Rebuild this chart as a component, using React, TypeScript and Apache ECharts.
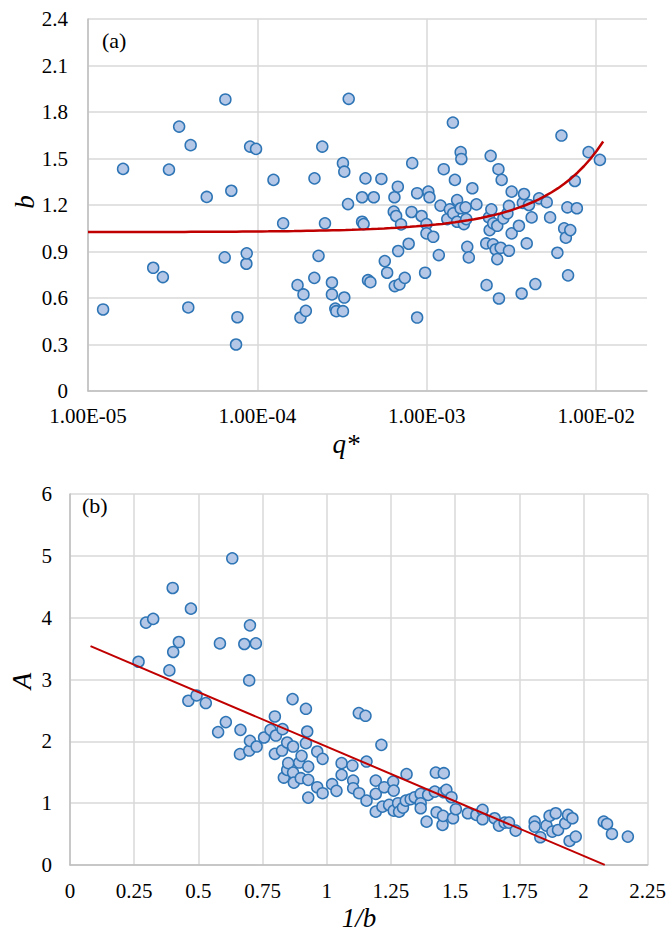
import React, { useEffect, useRef } from "react";
import * as echarts from "echarts";

// Panel (a): log10(q*) and b
const qLog: number[] = [
  -4.911, -4.793, -4.615, -4.558, -4.522, -4.462, -4.408, -4.394, -4.299, -4.193,
  -4.189, -4.154, -4.126, -4.118, -4.065, -4.063, -4.043, -4.008, -3.905, -3.848,
  -3.763, -3.746, -3.728, -3.714, -3.664, -3.663, -3.639, -3.617, -3.601, -3.560,
  -3.560, -3.540, -3.534, -3.495, -3.487, -3.495, -3.487, -3.465, -3.461, -3.382,
  -3.382, -3.373, -3.362, -3.347, -3.333, -3.313, -3.268, -3.248, -3.234, -3.195,
  -3.191, -3.189, -3.181, -3.171, -3.169, -3.161, -3.152, -3.130, -3.107, -3.090,
  -3.086, -3.057, -3.057, -3.031, -3.010, -3.002, -3.002, -2.991, -2.984, -2.962,
  -2.929, -2.919, -2.900, -2.879, -2.864, -2.846, -2.844, -2.834, -2.821, -2.821,
  -2.800, -2.800, -2.796, -2.781, -2.771, -2.767, -2.761, -2.752, -2.731, -2.707,
  -2.649, -2.647, -2.633, -2.629, -2.623, -2.619, -2.609, -2.608, -2.593, -2.584,
  -2.584, -2.577, -2.574, -2.564, -2.558, -2.548, -2.524, -2.515, -2.515, -2.499,
  -2.499, -2.456, -2.440, -2.433, -2.426, -2.410, -2.397, -2.381, -2.359, -2.337,
  -2.292, -2.272, -2.229, -2.205, -2.189, -2.179, -2.170, -2.166, -2.153, -2.126,
  -2.114, -2.045, -1.978,
];
const bVals: number[] = [
  0.526, 1.433, 0.795, 0.735, 1.428, 1.706, 0.539, 1.586, 1.252, 0.862,
  1.881, 1.292, 0.300, 0.476, 0.821, 0.888, 1.577, 1.562, 1.362, 1.082,
  0.683, 0.474, 0.623, 0.517, 0.730, 1.372, 0.872, 1.577, 1.082, 0.700,
  0.623, 0.532, 0.515, 0.515, 0.603, 1.470, 1.415, 1.206, 1.885, 1.250,
  1.092, 1.077, 1.372, 0.715, 0.702, 1.250, 1.368, 0.838, 0.763, 1.157,
  1.250, 0.677, 1.129, 1.318, 0.903, 0.688, 1.075, 0.730, 0.950, 1.155,
  1.470, 1.276, 0.474, 1.129, 0.763, 1.077, 1.017, 1.286, 1.250, 0.995,
  0.877, 1.196, 1.431, 1.109, 1.172, 1.732, 1.146, 1.362, 1.092, 1.232,
  1.179, 1.541, 1.497, 1.077, 1.185, 1.109, 0.930, 0.862, 1.308, 1.204,
  0.952, 0.683, 1.120, 1.038, 1.517, 1.172, 0.946, 1.082, 0.913, 1.066,
  0.851, 1.431, 0.597, 0.924, 1.362, 1.114, 1.146, 1.194, 0.905, 1.017,
  1.286, 1.066, 0.629, 1.214, 1.271, 0.952, 1.200, 1.120, 0.690, 1.243,
  1.218, 1.120, 0.892, 1.648, 1.049, 0.989, 1.185, 0.746, 1.038, 1.355,
  1.179, 1.541, 1.491,
];
// exponential trendline b = a * exp(k * q*)
const trendA = 1.025;
const trendK = 41;
const trendQMin = 1e-5;
const trendQMax = 0.011;
const xTicksA: number[] = [-5, -4, -3, -2];

// Panel (b): 1/b and A
const invB: number[] = [
  0.267, 0.296, 0.324, 0.387, 0.400, 0.402, 0.424, 0.461, 0.471, 0.493,
  0.529, 0.577, 0.584, 0.607, 0.632, 0.662, 0.664, 0.679, 0.698, 0.698,
  0.701, 0.701, 0.724, 0.727, 0.756, 0.781, 0.798, 0.798, 0.802, 0.826,
  0.828, 0.833, 0.846, 0.846, 0.850, 0.867, 0.869, 0.869, 0.872, 0.893,
  0.899, 0.902, 0.919, 0.919, 0.924, 0.928, 0.928, 0.928, 0.963, 0.963,
  0.984, 0.984, 1.021, 1.038, 1.058, 1.058, 1.100, 1.103, 1.103, 1.125,
  1.126, 1.151, 1.155, 1.155, 1.191, 1.191, 1.191, 1.213, 1.217, 1.224,
  1.243, 1.259, 1.261, 1.261, 1.278, 1.282, 1.297, 1.308, 1.311, 1.327,
  1.343, 1.366, 1.366, 1.366, 1.389, 1.395, 1.421, 1.425, 1.428, 1.451,
  1.453, 1.456, 1.456, 1.466, 1.486, 1.492, 1.503, 1.550, 1.583, 1.607,
  1.607, 1.654, 1.671, 1.693, 1.710, 1.736, 1.810, 1.810, 1.832, 1.856,
  1.868, 1.879, 1.892, 1.901, 1.929, 1.940, 1.946, 1.957, 1.970, 2.079,
  2.092, 2.111, 2.173,
];
const aVals: number[] = [
  3.287, 3.920, 3.980, 3.147, 4.480, 3.445, 3.606, 2.656, 4.146, 2.742,
  2.619, 2.149, 3.584, 2.311, 4.960, 1.793, 2.186, 3.574, 1.851, 2.985,
  2.008, 3.876, 3.584, 1.916, 2.062, 2.186, 2.402, 1.798, 2.094, 1.851,
  2.197, 1.414, 1.981, 1.538, 1.647, 2.683, 1.916, 1.495, 1.333, 1.657,
  1.404, 1.765, 2.526, 1.971, 2.159, 1.592, 1.377, 1.090, 1.835, 1.258,
  1.717, 1.161, 1.307, 1.199, 1.647, 1.457, 1.608, 1.365, 1.242, 2.457,
  1.161, 2.413, 1.673, 1.041, 1.365, 1.150, 0.863, 1.943, 0.944, 1.258,
  0.972, 1.349, 1.203, 0.879, 0.999, 0.863, 0.928, 1.041, 1.469, 1.064,
  1.096, 1.150, 0.999, 0.918, 0.701, 1.134, 1.187, 1.495, 0.853, 0.648,
  0.794, 1.485, 1.177, 1.215, 1.096, 0.756, 0.902, 0.837, 0.810, 0.891,
  0.740, 0.756, 0.637, 0.685, 0.685, 0.556, 0.701, 0.621, 0.449, 0.637,
  0.794, 0.540, 0.837, 0.567, 0.675, 0.810, 0.389, 0.756, 0.459, 0.701,
  0.664, 0.502, 0.459,
];
// linear trendline A = c0 + c1 * (1/b)
const lineC0 = 3.68;
const lineC1 = -1.766;
const lineXStart = 0.08;
const lineXEnd = 2.083;

const FONT = "Liberation Serif";
const GRID_COLOR = "#d9d9d9";
const AXIS_COLOR = "#bfbfbf";
const FILL = "#b4c7e7";
const EDGE = "#2e75b6";
const RED = "#c00000";

export default function App() {
  const ref = useRef<HTMLDivElement>(null);
  useEffect(() => {
    document.body.style.margin = "0";
    if (!ref.current) return;
    const chart = echarts.init(ref.current, undefined, { renderer: "svg" });

    const scatterA = qLog.map((x, i) => [x, bVals[i]]);
    const trendPts: number[][] = [];
    const n = 80;
    const l0 = Math.log10(trendQMin);
    const l1 = Math.log10(trendQMax);
    for (let i = 0; i <= n; i++) {
      const l = l0 + ((l1 - l0) * i) / n;
      const q = Math.pow(10, l);
      trendPts.push([l, trendA * Math.exp(trendK * q)]);
    }
    const scatterB = invB.map((x, i) => [x, aVals[i]]);
    const linePts = [
      [lineXStart, lineC0 + lineC1 * lineXStart],
      [lineXEnd, lineC0 + lineC1 * lineXEnd],
    ];

    const labelStyle = { fontFamily: FONT, fontSize: 21, color: "#000" };
    const titleStyle = { fontFamily: FONT, fontSize: 27, fontStyle: "italic", fill: "#000" };

    chart.setOption({
      animation: false,
      backgroundColor: "#fff",
      textStyle: { fontFamily: FONT },
      grid: [
        { left: 88, right: 22, top: 19, height: 372, containLabel: false },
        { left: 70, right: 21, top: 494, height: 371, containLabel: false },
      ],
      xAxis: [
        {
          type: "value",
          gridIndex: 0,
          min: -5,
          max: -1.7,
          interval: 1,
          axisLine: { show: true, lineStyle: { color: AXIS_COLOR, width: 1.5 } },
          axisTick: { show: false },
          splitLine: { show: true, showMaxLine: false, lineStyle: { color: GRID_COLOR, width: 1.5 } },
          axisLabel: {
            ...labelStyle,
            margin: 14,
            showMaxLabel: false,
            formatter: (v: number) => {
              const r = Math.round(v);
              if (Math.abs(v - r) > 1e-6 || !xTicksA.includes(r)) return "";
              return "1.00E-0" + String(-r);
            },
          },
        },
        {
          type: "value",
          gridIndex: 1,
          min: 0,
          max: 2.25,
          interval: 0.25,
          axisLine: { show: true, lineStyle: { color: AXIS_COLOR, width: 1.5 } },
          axisTick: { show: false },
          splitLine: { show: true, lineStyle: { color: GRID_COLOR, width: 1.5 } },
          axisLabel: { ...labelStyle, margin: 15 },
        },
      ],
      yAxis: [
        {
          type: "value",
          gridIndex: 0,
          min: 0,
          max: 2.4,
          interval: 0.3,
          axisLine: { show: true, lineStyle: { color: AXIS_COLOR, width: 1.5 } },
          axisTick: { show: false },
          splitLine: { show: true, lineStyle: { color: GRID_COLOR, width: 1.5 } },
          axisLabel: {
            ...labelStyle,
            margin: 20,
            formatter: (v: number) => (Math.abs(v) < 1e-9 ? "0" : v.toFixed(1)),
          },
        },
        {
          type: "value",
          gridIndex: 1,
          min: 0,
          max: 6,
          interval: 1,
          axisLine: { show: true, lineStyle: { color: AXIS_COLOR, width: 1.5 } },
          axisTick: { show: false },
          splitLine: { show: true, lineStyle: { color: GRID_COLOR, width: 1.5 } },
          axisLabel: { ...labelStyle, margin: 18 },
        },
      ],
      series: [
        {
          type: "scatter",
          xAxisIndex: 0,
          yAxisIndex: 0,
          data: scatterA,
          symbolSize: 11,
          itemStyle: { color: FILL, borderColor: EDGE, borderWidth: 1.5, opacity: 1 },
          z: 2,
        },
        {
          type: "line",
          xAxisIndex: 0,
          yAxisIndex: 0,
          data: trendPts,
          showSymbol: false,
          symbol: "none",
          lineStyle: { color: RED, width: 2.5 },
          z: 3,
        },
        {
          type: "scatter",
          xAxisIndex: 1,
          yAxisIndex: 1,
          data: scatterB,
          symbolSize: 11,
          itemStyle: { color: FILL, borderColor: EDGE, borderWidth: 1.5, opacity: 1 },
          z: 2,
        },
        {
          type: "line",
          xAxisIndex: 1,
          yAxisIndex: 1,
          data: linePts,
          showSymbol: false,
          symbol: "none",
          lineStyle: { color: RED, width: 2 },
          z: 3,
        },
      ],
      graphic: [
        {
          type: "text",
          left: 102,
          top: 29,
          style: { text: "(a)", fontFamily: FONT, fontSize: 22, fill: "#000" },
          z: 10,
        },
        {
          type: "text",
          left: 82,
          top: 494,
          style: { text: "(b)", fontFamily: FONT, fontSize: 22, fill: "#000" },
          z: 10,
        },
        {
          type: "text",
          x: 25,
          y: 202,
          rotation: Math.PI / 2,
          style: { ...titleStyle, text: "b", align: "center", verticalAlign: "middle" },
        },
        {
          type: "text",
          x: 346,
          y: 444,
          style: { ...titleStyle, text: "q*", align: "center", verticalAlign: "middle" },
        },
        {
          type: "text",
          x: 22,
          y: 681,
          rotation: Math.PI / 2,
          style: { ...titleStyle, text: "A", align: "center", verticalAlign: "middle" },
        },
        {
          type: "text",
          x: 359,
          y: 918,
          style: { ...titleStyle, text: "1/b", align: "center", verticalAlign: "middle" },
        },
      ],
    });
    return () => chart.dispose();
  }, []);
  return <div ref={ref} style={{ width: 669, height: 934 }} />;
}
